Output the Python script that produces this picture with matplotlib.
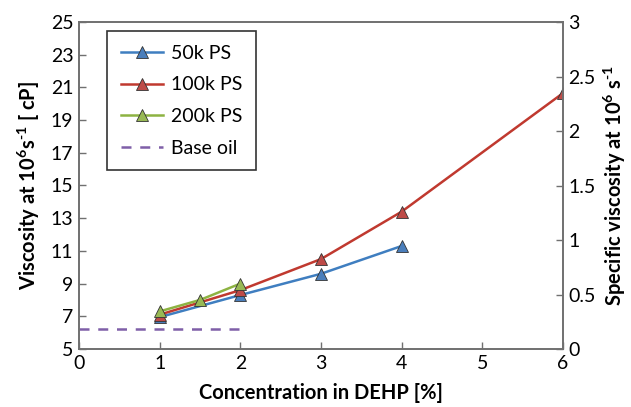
import matplotlib.pyplot as plt
from matplotlib.ticker import FuncFormatter

plt.rcParams["font.family"] = ["Lato", "DejaVu Sans"]
# only the axis labels use mathtext, and those are bold
plt.rcParams["mathtext.fontset"] = "custom"
plt.rcParams["mathtext.rm"] = "Lato:bold"
plt.rcParams["mathtext.default"] = "rm"

# data
conc_50k = [1, 2, 3, 4]
visc_50k = [6.95, 8.3, 9.6, 11.3]
conc_100k = [1, 2, 3, 4, 6]
visc_100k = [7.1, 8.6, 10.5, 13.4, 20.65]
conc_200k = [1, 1.5, 2]
visc_200k = [7.3, 8.0, 9.0]
base_x = [0, 2]
base_y = [6.25, 6.25]

fig = plt.figure(figsize=(6.31, 4.07), dpi=100)
ax = fig.add_axes([79 / 631, 1 - 349 / 407, (563 - 79) / 631, (349 - 22) / 407])

tri = dict(marker="^", markersize=9, markeredgecolor="#333333", markeredgewidth=0.6)
ax.plot(conc_50k, visc_50k, color="#3f7ec0", lw=1.8, markerfacecolor="#4a7ebb", label="50k PS", **tri)
ax.plot(conc_100k, visc_100k, color="#c0392f", lw=1.8, markerfacecolor="#be4b48", label="100k PS", **tri)
ax.plot(conc_200k, visc_200k, color="#8db342", lw=1.8, markerfacecolor="#98b954", label="200k PS", **tri)
ax.plot(base_x, base_y, color="#7f5fa8", lw=1.8, ls=(0, (4, 3.5)), label="Base oil")

ax.set_xlim(0, 6)
ax.set_ylim(5, 25)
ax.set_xticks(range(0, 7))
ax.set_yticks(range(5, 26, 2))
ax.tick_params(direction="in", length=5, width=1, color="#707070", labelsize=14, pad=4)

for s in ax.spines.values():
    s.set_color("#707070")
    s.set_linewidth(1.2)

ax.set_xlabel("Concentration in DEHP [%]", fontsize=14.5, fontweight="bold", labelpad=8)
ax.set_ylabel(r"Viscosity at 10$^{6}$s$^{\text{-}1}$ [ cP]", fontsize=14.5, fontweight="bold", labelpad=6)

ax2 = ax.twinx()
ax2.set_ylim(0, 3)
ax2.set_yticks([0, 0.5, 1, 1.5, 2, 2.5, 3])
ax2.yaxis.set_major_formatter(FuncFormatter(lambda v, p: f"{v:g}"))
ax2.tick_params(direction="in", length=5, width=1, color="#707070", labelsize=14, pad=4)
for s in ax2.spines.values():
    s.set_color("#707070")
    s.set_linewidth(1.2)
ax2.set_ylabel(r"Specific viscosity at 10$^{6}$ s$^{\text{-}1}$", fontsize=14.5, fontweight="bold", labelpad=4)

leg = ax.legend(loc="upper left", bbox_to_anchor=(0.058, 0.972), borderaxespad=0, fontsize=14,
                frameon=True, fancybox=False, edgecolor="black", handlelength=2.2,
                labelspacing=0.75, borderpad=0.7, handletextpad=0.4)
leg.get_frame().set_linewidth(1.2)

fig.savefig("out.png", dpi=100)
